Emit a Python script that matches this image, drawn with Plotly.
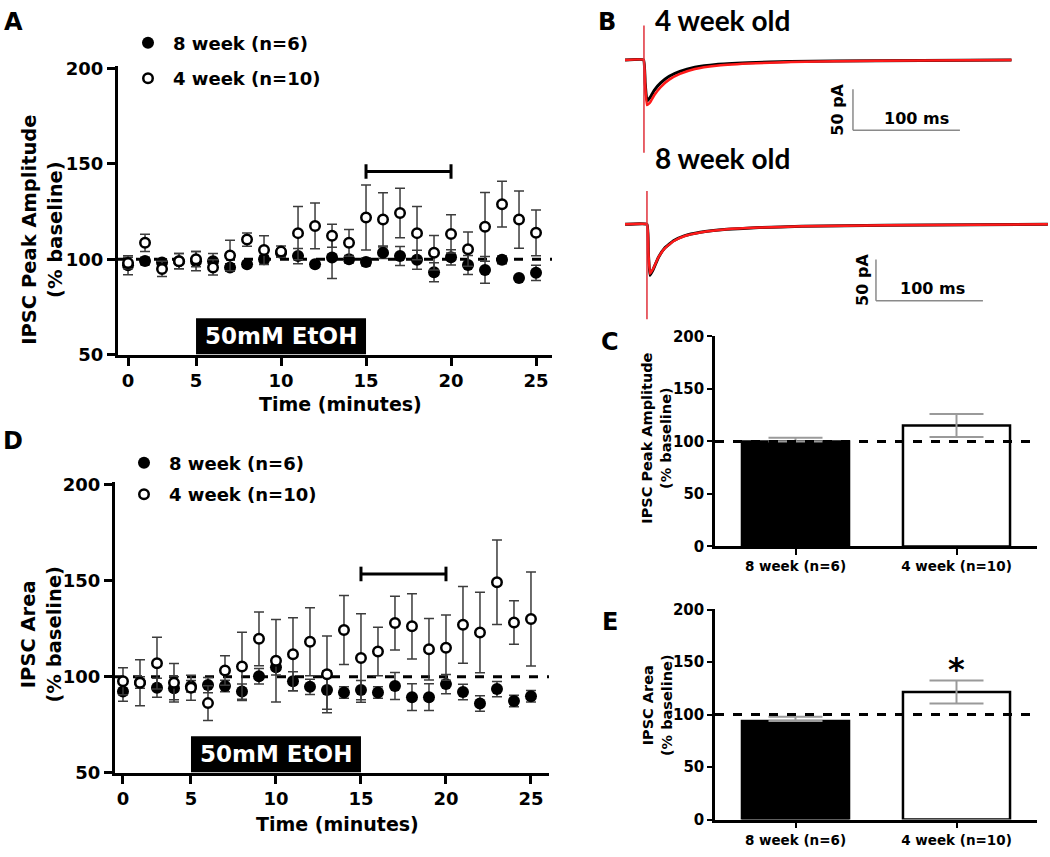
import plotly.graph_objects as go

W, H = 1050, 857
FONT = "DejaVu Sans"

# ---------------- data ----------------
minutes = list(range(1, 26))
time_tickvals = [1, 5, 10, 15, 20, 25]
time_ticktext = ["0", "5", "10", "15", "20", "25"]
pct_ticks = [50, 100, 150, 200]
bar_ticks = [0, 50, 100, 150, 200]

series_names = ["8 week (n=6)", "4 week (n=10)"]

# Panel A: IPSC peak amplitude (% baseline)
peak_8wk = [96.9, 99.1, 98.3, 99.0, 99.0, 99.0, 95.7, 97.4, 100.0, 103.4, 101.7, 97.4, 100.9,
            100.0, 98.6, 103.4, 101.7, 99.7, 93.2, 101.0, 97.0, 94.4, 99.7, 90.2, 92.9]
peak_8wk_sem = [5, 2, 2, 4, 5, 4, 2, 1.5, 2, 2, 4, 1, 11, 2, 2, 3, 5, 5, 5, 4, 5, 7, 2, 1, 4]
peak_4wk = [98.0, 108.6, 94.9, 99.0, 100.0, 95.7, 102.0, 110.3, 104.8, 104.0, 113.7, 117.5, 112.3,
            108.6, 121.9, 120.9, 124.3, 113.7, 103.4, 113.3, 105.3, 117.0, 128.9, 120.8, 113.9]
peak_4wk_sem = [3, 4.5, 4, 4, 4, 4, 8, 3.5, 7.5, 3, 14, 12, 6, 7, 17, 14, 13, 14, 9, 10, 9, 18, 12, 15, 12]

# Panel D: IPSC area (% baseline)
area_8wk = [92.2, 97.0, 94.2, 93.9, 95.0, 95.6, 95.1, 92.2, 100.2, 104.9, 97.6, 94.7, 93.0,
            91.7, 93.0, 91.7, 95.1, 89.3, 89.3, 96.1, 92.0, 86.0, 93.5, 87.3, 89.8]
area_8wk_sem = [5, 3, 5, 6, 3, 4, 3, 4, 4, 4, 5, 4, 10, 3, 5, 3, 7, 7, 7, 5, 4, 4, 4, 3, 3]
area_4wk = [97.6, 96.8, 107.0, 96.8, 94.2, 86.2, 103.2, 105.3, 119.7, 108.3, 111.7, 118.2, 101.2,
            124.3, 109.7, 113.1, 127.9, 126.2, 114.3, 115.1, 127.0, 123.0, 149.2, 128.2, 130.0]
area_4wk_sem = [7, 12, 13.5, 10, 6.5, 9, 7.7, 17.8, 14, 21.5, 19, 17.7, 20, 18, 23, 12.6, 14, 17,
                16, 17, 20, 21, 22, 11.3, 24.5]

# Panels C and E: bar summaries
peak_bar_mean = [100.0, 115.2]
peak_bar_sem = [3.5, 11.0]
area_bar_mean = [94.0, 121.5]
area_bar_sem = [4.0, 11.0]

# Panel B: example traces (ms, pA relative to baseline)
trace4_t = [4.7, 22.0, 23.5, 25.2, 28, 32, 38, 46, 56, 70, 90, 120, 160, 240, 366]
trace4_black = [0, 0, -28, -50, -46, -37, -28, -20, -14, -9, -5.5, -3.5, -2, -1, 0]
trace4_red = [0, 0, -30, -55, -52, -43, -33, -24, -17, -11, -7, -4.5, -2.5, -1, 0]
trace4_artifact_t = [22.4, 22.4]
trace4_artifact_pA = [41.7, -113.0]

trace8_t = [4.7, 25.2, 26.5, 28.0, 31, 36, 42, 50, 60, 75, 100, 130, 170, 250, 400]
trace8_black = [0, 0, -35, -62, -55, -40, -28.6, -20, -14, -9.5, -6, -4, -2.4, -1, 0]
trace8_red = [0, 0, -33, -60, -54, -40, -29, -20.5, -14.5, -10, -6, -4, -2.4, -1, 0]
trace8_artifact_t = [25.2, 25.2]
trace8_artifact_pA = [40.5, -115.5]

scale_ms = 100
scale_pA = 50

etoh_window = [5, 15]
analysis_window = [15, 20]


# ---------------- helpers ----------------
def xdom(p0, p1):
    return [p0 / W, p1 / W]


def ydom(top, bottom):
    return [1 - bottom / H, 1 - top / H]


def px(p):
    return p / W


def py(p):
    return 1 - p / H


fig = go.Figure()

ebar_col = "#3c3c3c"


def add_time_series(xa, ya, y8, e8, y4, e4, legend):
    fig.add_trace(go.Scatter(
        x=minutes, y=y8, mode="markers", name=series_names[0],
        xaxis=xa, yaxis=ya, legend=legend, legendgroup=legend + "a",
        marker=dict(symbol="circle", size=12, color="black"),
        error_y=dict(type="data", array=e8, color=ebar_col, thickness=1.5, width=5),
        cliponaxis=False,
    ))
    fig.add_trace(go.Scatter(
        x=minutes, y=y4, mode="markers", name=series_names[1],
        xaxis=xa, yaxis=ya, legend=legend, legendgroup=legend + "b",
        marker=dict(symbol="circle", size=9.5, color="white",
                    line=dict(color="black", width=2.5)),
        error_y=dict(type="data", array=e4, color=ebar_col, thickness=1.5, width=5),
        cliponaxis=False,
    ))


add_time_series("x", "y", peak_8wk, peak_8wk_sem, peak_4wk, peak_4wk_sem, "legend")
add_time_series("x2", "y2", area_8wk, area_8wk_sem, area_4wk, area_4wk_sem, "legend2")

# Panel B traces
for xa, ya, t, yb, yr, at, ap in [
    ("x3", "y3", trace4_t, trace4_black, trace4_red, trace4_artifact_t, trace4_artifact_pA),
    ("x4", "y4", trace8_t, trace8_black, trace8_red, trace8_artifact_t, trace8_artifact_pA),
]:
    fig.add_trace(go.Scatter(x=t, y=yb, mode="lines", xaxis=xa, yaxis=ya, showlegend=False,
                             line=dict(color="black", width=3, shape="spline", smoothing=0.3)))
    fig.add_trace(go.Scatter(x=t, y=yr, mode="lines", xaxis=xa, yaxis=ya, showlegend=False,
                             line=dict(color="#ff1a1a", width=2.5, shape="spline", smoothing=0.3)))
    fig.add_trace(go.Scatter(x=at, y=ap, mode="lines", xaxis=xa, yaxis=ya, showlegend=False,
                             line=dict(color="#e0303a", width=1.5)))

# Panels C and E bars
bar_fill = ["black", "white"]
for xa, ya, means, sems in [("x5", "y5", peak_bar_mean, peak_bar_sem),
                            ("x6", "y6", area_bar_mean, area_bar_sem)]:
    for i in range(2):
        fig.add_trace(go.Bar(
            x=[series_names[i]], y=[means[i]], xaxis=xa, yaxis=ya, showlegend=False,
            width=0.665, marker=dict(color=bar_fill[i], line=dict(color="black", width=2.5)),
            error_y=dict(type="data", symmetric=False, array=[sems[i]],
                         arrayminus=[sems[i] if bar_fill[i] == "white" else 0],
                         color="#9a9a9a", thickness=2, width=27),
        ))

# ---------------- axes ----------------
A_xr = [0.41, 25.94]
D_xr = [0.53, 26.06]
T_yr = [50, 201.5]

time_x_common = dict(tickvals=time_tickvals, ticktext=time_ticktext, showline=True,
                     linecolor="black", linewidth=3, ticks="outside", ticklen=8, tickwidth=2.5,
                     tickcolor="black", showgrid=False, zeroline=False,
                     tickfont=dict(size=18, family=FONT, weight="bold", color="black"))
time_y_common = dict(range=T_yr, tickvals=pct_ticks, showline=True, linecolor="black",
                     linewidth=3, ticks="outside", ticklen=8, tickwidth=2.5, tickcolor="black",
                     showgrid=False, zeroline=False,
                     tickfont=dict(size=18, family=FONT, weight="bold", color="black"))

bar_x_common = dict(type="category", range=[-0.5, 1.5], showline=True, linecolor="black",
                    linewidth=2.5, ticks="outside", ticklen=6, tickwidth=2, tickcolor="black",
                    showgrid=False, zeroline=False,
                    tickfont=dict(size=13.5, family=FONT, weight="bold", color="black"))
bar_y_common = dict(range=[0, 200.5], tickvals=bar_ticks, showline=True, linecolor="black",
                    linewidth=2.5, ticks="outside", ticklen=5, tickwidth=2, tickcolor="black",
                    showgrid=False, zeroline=False,
                    tickfont=dict(size=15, family=FONT, weight="bold", color="black"))

hidden = dict(visible=False, showgrid=False, zeroline=False)

fig.update_layout(
    xaxis=dict(domain=xdom(118, 552), range=A_xr, anchor="y", **time_x_common),
    yaxis=dict(domain=ydom(59, 354), anchor="x", **time_y_common),
    xaxis2=dict(domain=xdom(115, 549), range=D_xr, anchor="y2", **time_x_common),
    yaxis2=dict(domain=ydom(484, 781), anchor="x2", **time_y_common),
    xaxis3=dict(domain=xdom(620, 1050), range=[0, 402], anchor="y3", **hidden),
    yaxis3=dict(domain=ydom(10, 150), range=[-115.5, 51.2], anchor="x3", **hidden),
    xaxis4=dict(domain=xdom(620, 1050), range=[0, 402], anchor="y4", **hidden),
    yaxis4=dict(domain=ydom(160, 320), range=[-117.9, 72.6], anchor="x4", **hidden),
    xaxis5=dict(domain=xdom(715, 1037), anchor="y5", **bar_x_common),
    yaxis5=dict(domain=ydom(335, 550), anchor="x5", **bar_y_common),
    xaxis6=dict(domain=xdom(715, 1037), anchor="y6", **bar_x_common),
    yaxis6=dict(domain=ydom(614, 829), anchor="x6", **bar_y_common),
)

# ---------------- shapes ----------------
shapes = []
for xr, yref, xref, bracket_y in [(A_xr, "y", "x", 146), (D_xr, "y2", "x2", 153.5)]:
    shapes.append(dict(type="line", xref=xref, yref=yref, x0=xr[0], x1=xr[1], y0=100, y1=100,
                       line=dict(color="black", width=3, dash="dash"), layer="below"))
    shapes.append(dict(type="rect", xref=xref, yref=yref, x0=etoh_window[0], x1=etoh_window[1],
                       y0=50, y1=69, fillcolor="black", line=dict(width=0), layer="above"))
    shapes.append(dict(type="line", xref=xref, yref=yref, x0=analysis_window[0],
                       x1=analysis_window[1], y0=bracket_y, y1=bracket_y,
                       line=dict(color="black", width=3)))
    for xe in analysis_window:
        shapes.append(dict(type="line", xref=xref, yref=yref, x0=xe, x1=xe,
                           y0=bracket_y - 3.8, y1=bracket_y + 3.8,
                           line=dict(color="black", width=3)))

for xref, yref in [("x5", "y5"), ("x6", "y6")]:
    shapes.append(dict(type="line", xref=xref, yref=yref, x0=-0.5, x1=1.5, y0=100, y1=100,
                       line=dict(color="black", width=3, dash="dash"), layer="above"))

# scale bars in panel B
for xref, yref, x0, ytop in [("x3", "y3", 217.8, -35.7), ("x4", "y4", 239.3, -42.9)]:
    ybot = ytop - scale_pA
    shapes.append(dict(type="line", xref=xref, yref=yref, x0=x0, x1=x0, y0=ytop, y1=ybot,
                       line=dict(color="#8a8a8a", width=1.5)))
    shapes.append(dict(type="line", xref=xref, yref=yref, x0=x0, x1=x0 + scale_ms, y0=ybot,
                       y1=ybot, line=dict(color="#8a8a8a", width=1.5)))

# ---------------- annotations ----------------
ann = []


def text(x, y, s, size, **kw):
    d = dict(x=x, y=y, text=s, showarrow=False, xref=kw.pop("xref", "paper"),
             yref=kw.pop("yref", "paper"), xanchor=kw.pop("xanchor", "center"),
             yanchor=kw.pop("yanchor", "middle"),
             font=dict(size=size, family=kw.pop("family", FONT), weight="bold",
                       color=kw.pop("color", "black")))
    d.update(kw)
    ann.append(d)


# panel letters
text(px(13), py(14), "A", 24)
text(px(607), py(14), "B", 24)
text(px(610), py(341), "C", 24)
text(px(13), py(442), "D", 24)
text(px(610), py(627), "E", 24)

# axis titles
text(px(42.5), py(227), "IPSC Peak Amplitude<br>(% baseline)", 19.5, textangle=-90)
text(px(340), py(405), "Time (minutes)", 19)
text(px(41), py(640), "IPSC Area<br>(% baseline)", 19.5, textangle=-90)
text(px(337), py(833), "Time (minutes)", 19)
text(px(657), py(440), "IPSC Peak Amplitude<br>(% baseline)", 14.5, textangle=-90)
text(px(657), py(712), "IPSC Area<br>(% baseline)", 14.5, textangle=-90)

# EtOH labels
text(sum(etoh_window) / 2, 59.5, "50mM EtOH", 23, xref="x", yref="y", color="white")
text(sum(etoh_window) / 2, 59.5, "50mM EtOH", 23, xref="x2", yref="y2", color="white")

# panel B labels
text(px(653), py(12), "4 week old", 28, family="Lato", xanchor="left")
text(px(653), py(153), "8 week old", 28, family="Lato", xanchor="left")
text(203.7, -60.7, "50 pA", 16, xref="x3", yref="y3", textangle=-90)
text(277.6, -71.4, "100 ms", 16, xref="x3", yref="y3")
text(226.0, -67.9, "50 pA", 16, xref="x4", yref="y4", textangle=-90)
text(292.5, -78.0, "100 ms", 16, xref="x4", yref="y4")

# significance
text(series_names[1], 143, "*", 32, xref="x6", yref="y6")

legend_font = dict(size=18, family=FONT, weight="bold", color="black")
legend_common = dict(bgcolor="rgba(0,0,0,0)", borderwidth=0, xanchor="left", yanchor="top",
                     itemwidth=40, font=legend_font)

fig.update_layout(
    width=W, height=H,
    margin=dict(l=0, r=0, t=0, b=0),
    paper_bgcolor="white", plot_bgcolor="white",
    font=dict(family=FONT, weight="bold", color="black"),
    barmode="overlay",
    shapes=shapes,
    annotations=ann,
    legend=dict(x=px(123), y=py(17), tracegroupgap=9, **legend_common),
    legend2=dict(x=px(119), y=py(446), tracegroupgap=5, **legend_common),
    showlegend=True,
)

fig.write_html("out.html", config={"displayModeBar": False},
               post_script="document.body.style.margin='0px';")
